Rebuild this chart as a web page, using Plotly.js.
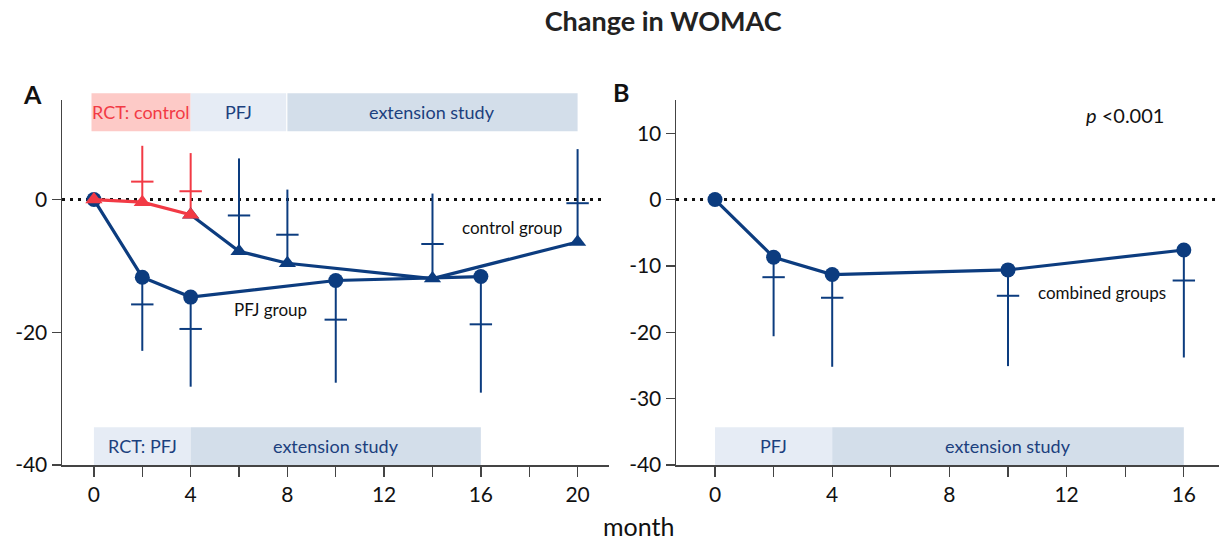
<!DOCTYPE html>
<html>
<head>
<meta charset="utf-8">
<script src="https://cdn.plot.ly/plotly-3.0.1.min.js"></script>
<style>html,body{margin:0;padding:0;background:#fff;}#chart{width:1219px;height:540px;}</style>
</head>
<body>
<div id="chart"></div>
<script>
// ---- data ----
const pfjMonths = [0, 2, 4, 10, 16];
const pfjMean   = [0, -11.7, -14.7, -12.2, -11.6];
const pfjInner  = [null, -15.8, -19.5, -18.1, -18.8];
const pfjLow    = [null, -22.8, -28.2, -27.6, -29.1];

const ctrlRctMonths = [0, 2, 4];
const ctrlRctMean   = [0, -0.4, -2.3];
const ctrlRctInner  = [null, 2.7, 1.25];
const ctrlRctHigh   = [null, 8.1, 7.0];

const ctrlExtMonths = [4, 6, 8, 14, 20];
const ctrlExtMean   = [-2.3, -7.8, -9.6, -11.9, -6.4];
const ctrlExtInner  = [null, -2.4, -5.3, -6.7, -0.55];
const ctrlExtHigh   = [null, 6.2, 1.5, 0.9, 7.6];

const combMonths = [0, 2, 4, 10, 16];
const combMean   = [0, -8.7, -11.3, -10.6, -7.6];
const combInner  = [null, -11.7, -14.8, -14.5, -12.2];
const combLow    = [null, -20.6, -25.2, -25.1, -23.8];

const tickValsA = [0, 2, 4, 6, 8, 10, 12, 14, 16, 18, 20];
const tickTextA = ['0', '', '4', '', '8', '', '12', '', '16', '', '20'];
const tickValsB = [0, 2, 4, 6, 8, 10, 12, 14, 16];
const tickTextB = ['0', '', '4', '', '8', '', '12', '', '16'];
const yTickValsA = [-40, -20, 0];
const yTickValsB = [-40, -30, -20, -10, 0, 10];

const topBandLabelsA = ['RCT: control', 'PFJ', 'extension study'];
const topBandStartA  = [-0.1, 4, 8];
const topBandEndA    = [4, 7.95, 20];
const botBandLabelsA = ['RCT: PFJ', 'extension study'];
const botBandStartA  = [0, 4];
const botBandEndA    = [4, 16];
const botBandLabelsB = ['PFJ', 'extension study'];
const botBandStartB  = [0, 4];
const botBandEndB    = [4, 16];

// ---- styling ----
const BLUE = '#0c3c7f';
const RED = '#f23a45';
const TXTBLUE = '#1b407e';
const FONT = 'Lato, "Open Sans", sans-serif';
const YMIN = -40, YMAX = 15;
const yp = v => (v - YMIN) / (YMAX - YMIN); // y value -> paper (plot area spans paper 0..1)

function whisker(x, mean, end, up, color, xa, ya) {
  const d = mean.map((m, i) => end[i] == null ? 0 : Math.abs(end[i] - m));
  const z = mean.map(() => 0);
  return {
    x: x, y: mean, type: 'scatter', mode: 'markers', xaxis: xa, yaxis: ya,
    marker: {size: 1, opacity: 0}, hoverinfo: 'skip', showlegend: false,
    error_y: {type: 'data', symmetric: false, array: up ? d : z, arrayminus: up ? z : d,
              width: 0, thickness: 2, color: color}
  };
}
function crossbar(x, vals, color, xa, ya) {
  return {
    x: x, y: vals, type: 'scatter', mode: 'markers', xaxis: xa, yaxis: ya,
    marker: {symbol: 'line-ew', size: 16, line: {width: 2, color: color}},
    hoverinfo: 'skip', showlegend: false
  };
}

const traces = [
  whisker(pfjMonths, pfjMean, pfjLow, false, BLUE, 'x', 'y'),
  crossbar(pfjMonths, pfjInner, BLUE, 'x', 'y'),
  whisker(ctrlExtMonths, ctrlExtMean, ctrlExtHigh, true, BLUE, 'x', 'y'),
  crossbar(ctrlExtMonths, ctrlExtInner, BLUE, 'x', 'y'),
  whisker(ctrlRctMonths, ctrlRctMean, ctrlRctHigh, true, RED, 'x', 'y'),
  crossbar(ctrlRctMonths, ctrlRctInner, RED, 'x', 'y'),
  {x: pfjMonths, y: pfjMean, type: 'scatter', mode: 'lines+markers', xaxis: 'x', yaxis: 'y',
   line: {color: BLUE, width: 3.2}, marker: {symbol: 'circle', size: 15, color: BLUE}, showlegend: false},
  {x: ctrlExtMonths, y: ctrlExtMean, type: 'scatter', mode: 'lines+markers', xaxis: 'x', yaxis: 'y',
   line: {color: BLUE, width: 3.2}, marker: {symbol: 'triangle-up', size: 15, color: BLUE}, showlegend: false},
  {x: ctrlRctMonths, y: ctrlRctMean, type: 'scatter', mode: 'lines+markers', xaxis: 'x', yaxis: 'y',
   line: {color: RED, width: 3.2}, marker: {symbol: 'triangle-up', size: 15, color: RED}, showlegend: false},
  whisker(combMonths, combMean, combLow, false, BLUE, 'x2', 'y2'),
  crossbar(combMonths, combInner, BLUE, 'x2', 'y2'),
  {x: combMonths, y: combMean, type: 'scatter', mode: 'lines+markers', xaxis: 'x2', yaxis: 'y2',
   line: {color: BLUE, width: 3.2}, marker: {symbol: 'circle', size: 15, color: BLUE}, showlegend: false}
];

const shapes = [];
const annotations = [];
function band(xa, ya, starts, ends, labels, top, bottom, colors, textColors) {
  labels.forEach((lab, i) => {
    shapes.push({type: 'rect', xref: xa, yref: 'paper', x0: starts[i], x1: ends[i],
                 y0: yp(bottom), y1: yp(top), fillcolor: colors[i], line: {width: 0}, layer: 'below'});
    annotations.push({xref: xa, yref: 'paper', x: (starts[i] + ends[i]) / 2, y: yp((top + bottom) / 2),
                      text: lab, showarrow: false, xanchor: 'center', yanchor: 'middle',
                      font: {family: FONT, size: 18, color: textColors[i]}});
  });
}
band('x', 'y', topBandStartA, topBandEndA, topBandLabelsA, 16.0, 10.3,
     ['#fdcac7', '#e6ecf5', '#d3deea'], [RED, TXTBLUE, TXTBLUE]);
band('x', 'y', botBandStartA, botBandEndA, botBandLabelsA, -34.3, -40,
     ['#e6ecf5', '#d3deea'], [TXTBLUE, TXTBLUE]);
band('x2', 'y2', botBandStartB, botBandEndB, botBandLabelsB, -34.3, -40,
     ['#e6ecf5', '#d3deea'], [TXTBLUE, TXTBLUE]);

// dotted zero lines
shapes.push({type: 'line', xref: 'x domain', yref: 'y', x0: 0, x1: 0.992, y0: 0, y1: 0,
             line: {color: '#111', width: 3, dash: '3px,5px'}, layer: 'below'});
shapes.push({type: 'line', xref: 'x2 domain', yref: 'y2', x0: 0, x1: 1, y0: 0, y1: 0,
             line: {color: '#111', width: 3, dash: '3px,5px'}, layer: 'below'});

// text labels
annotations.push({xref: 'x', yref: 'y', x: 17.3, y: -4.2, text: 'control group', showarrow: false,
                  font: {family: FONT, size: 17, color: '#111'}});
annotations.push({xref: 'x', yref: 'y', x: 7.3, y: -16.5, text: 'PFJ group', showarrow: false,
                  font: {family: FONT, size: 17, color: '#111'}});
annotations.push({xref: 'x2', yref: 'y2', x: 13.2, y: -14.0, text: 'combined groups', showarrow: false,
                  font: {family: FONT, size: 17, color: '#111'}});
annotations.push({xref: 'x2', yref: 'y2', x: 14.0, y: 12.8, text: '<i>p</i> <0.001', showarrow: false,
                  font: {family: FONT, size: 20, color: '#111'}});
const px = p => (p - 62) / 1157;
const pyy = p => (465 - p) / 365;
annotations.push({xref: 'paper', yref: 'paper', x: px(21), y: pyy(77), text: '<b>A</b>', showarrow: false,
                  font: {family: FONT, size: 25, color: '#111'}});
annotations.push({xref: 'paper', yref: 'paper', x: px(621), y: pyy(75), text: '<b>B</b>', showarrow: false,
                  font: {family: FONT, size: 25, color: '#111'}});
annotations.push({xref: 'paper', yref: 'paper', x: px(638), y: pyy(543), text: 'month', showarrow: false,
                  yanchor: 'bottom', font: {family: FONT, size: 25, color: '#111'}});

const axBase = {showline: true, linecolor: '#444', linewidth: 1.5, ticks: 'outside', ticklen: 9,
                tickcolor: '#444', tickwidth: 1.3, showgrid: false, zeroline: false,
                tickfont: {family: FONT, size: 21, color: '#111'}, fixedrange: true};

const layout = {
  width: 1219, height: 540,
  margin: {l: 62, r: 0, t: 100, b: 75, pad: 0},
  paper_bgcolor: '#fff', plot_bgcolor: '#fff',
  showlegend: false,
  title: {text: '<b>Change in WOMAC</b>', x: 0.544, xref: 'container', y: 1 - 22 / 540, yref: 'container',
          xanchor: 'center', yanchor: 'middle', font: {family: FONT, size: 27, color: '#222'}},
  xaxis: Object.assign({}, axBase, {domain: [0, 0.4728], range: [-1.32, 21.3], tickmode: 'array',
          tickvals: tickValsA, ticktext: tickTextA, anchor: 'y', ticklen: 10}),
  yaxis: Object.assign({}, axBase, {domain: [0, 1], range: [YMIN, YMAX], tickmode: 'array',
          tickvals: yTickValsA, ticktext: yTickValsA.map(String), anchor: 'x'}),
  xaxis2: Object.assign({}, axBase, {domain: [0.5307, 1], range: [-1.33, 17.2], tickmode: 'array',
          tickvals: tickValsB, ticktext: tickTextB, anchor: 'y2', ticklen: 10}),
  yaxis2: Object.assign({}, axBase, {domain: [0, 1], range: [YMIN, YMAX], tickmode: 'array',
          tickvals: yTickValsB, ticktext: yTickValsB.map(String), anchor: 'x2'}),
  shapes: shapes,
  annotations: annotations
};

Plotly.newPlot('chart', traces, layout, {displayModeBar: false, staticPlot: true});
</script>
</body>
</html>
